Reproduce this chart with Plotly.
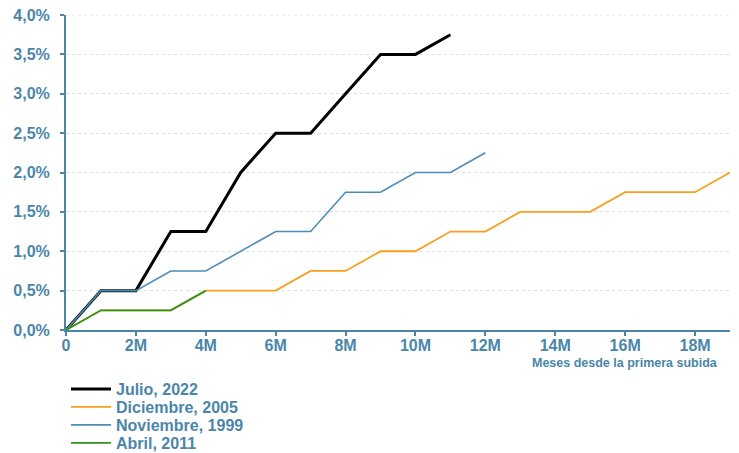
import plotly.graph_objects as go

months_jul22 = [0, 1, 2, 3, 4, 5, 6, 7, 8, 9, 10, 11]
rate_jul22 = [0, 0.5, 0.5, 1.25, 1.25, 2.0, 2.5, 2.5, 3.0, 3.5, 3.5, 3.75]

months_dic05 = list(range(0, 20))
rate_dic05 = [0, 0.25, 0.25, 0.25, 0.5, 0.5, 0.5, 0.75, 0.75, 1.0, 1.0, 1.25, 1.25, 1.5, 1.5, 1.5, 1.75, 1.75, 1.75, 2.0]

months_nov99 = list(range(0, 13))
rate_nov99 = [0, 0.5, 0.5, 0.75, 0.75, 1.0, 1.25, 1.25, 1.75, 1.75, 2.0, 2.0, 2.25]

months_abr11 = [0, 1, 2, 3, 4]
rate_abr11 = [0, 0.25, 0.25, 0.25, 0.5]

x_tickvals = [0, 2, 4, 6, 8, 10, 12, 14, 16, 18]
x_ticktext = ["0", "2M", "4M", "6M", "8M", "10M", "12M", "14M", "16M", "18M"]
y_tickvals = [0, 0.5, 1, 1.5, 2, 2.5, 3, 3.5, 4]
y_ticktext = ["0,0%", "0,5%", "1,0%", "1,5%", "2,0%", "2,5%", "3,0%", "3,5%", "4,0%"]

AX = "#4a86aa"
GRID = "#dedede"
FONT = "Liberation Sans, Arial, sans-serif"
W, H = 739, 453
OFF = 8  # page body offset

PL, PR, PT, PB = 66 - OFF, 730 - OFF, 15 - OFF, 330 - OFF
Y_MAX = max(y_tickvals)

fig = go.Figure()
fig.add_trace(go.Scatter(x=months_jul22, y=rate_jul22, mode="lines", name="Julio, 2022",
                         line=dict(color="#000000", width=3), legend="legend"))
fig.add_trace(go.Scatter(x=months_dic05, y=rate_dic05, mode="lines", name="Diciembre, 2005",
                         line=dict(color="#f7a01c", width=1.8), legend="legend2"))
fig.add_trace(go.Scatter(x=months_nov99, y=rate_nov99, mode="lines", name="Noviembre, 1999",
                         line=dict(color="#4a8db5", width=1.6), legend="legend3"))
fig.add_trace(go.Scatter(x=months_abr11, y=rate_abr11, mode="lines", name="Abril, 2011",
                         line=dict(color="#2e961b", width=1.8), legend="legend4"))

def leg(ypx):
    return dict(x=(66 - OFF) / W, y=1 - (ypx - OFF) / H, xref="container", yref="container",
                xanchor="left", yanchor="middle", itemwidth=40,
                font=dict(size=16, color=AX, family=FONT, weight="bold"),
                bgcolor="rgba(0,0,0,0)", borderwidth=0)

fig.update_layout(
    width=W, height=H,
    margin=dict(l=PL, r=W - PR, t=PT, b=H - PB, autoexpand=False),
    paper_bgcolor="white", plot_bgcolor="white",
    font=dict(family=FONT, color=AX),
    legend=leg(389), legend2=leg(407), legend3=leg(425), legend4=leg(443),
    showlegend=True,
)
fig.update_xaxes(range=[0, 19], tickvals=x_tickvals, ticktext=x_ticktext,
                 showline=True, linecolor=AX, linewidth=2, ticks="outside", tickcolor=AX,
                 ticklen=4, tickwidth=2, showgrid=False, zeroline=False, ticklabelstandoff=-4,
                 ticklabeloverflow="allow",
                 tickfont=dict(size=16, color=AX, weight="bold"))
fig.update_yaxes(range=[0, Y_MAX], tickvals=y_tickvals, ticktext=y_ticktext,
                 showline=True, linecolor=AX, linewidth=2, ticks="outside", tickcolor=AX,
                 ticklen=4, tickwidth=2, showgrid=True, gridcolor=GRID, griddash="dot",
                 gridwidth=1, zeroline=False, ticklabelstandoff=7,
                 ticklabeloverflow="allow",
                 tickfont=dict(size=16, color=AX, weight="bold"))

# top gridline (plotly omits gridlines at the very edge of the plot area)
fig.add_shape(type="line", xref="paper", x0=0, x1=1, yref="y", y0=Y_MAX, y1=Y_MAX,
              line=dict(color=GRID, width=1, dash="dot"), layer="below")

fig.add_annotation(text="Meses desde la primera subida", xref="paper", yref="paper",
                   x=(720 - OFF - PL) / (PR - PL), y=-(363 - 330) / (PB - PT),
                   xanchor="right", yanchor="middle", showarrow=False,
                   font=dict(size=12.5, color=AX, weight="bold"))

fig.write_html("out.html")
